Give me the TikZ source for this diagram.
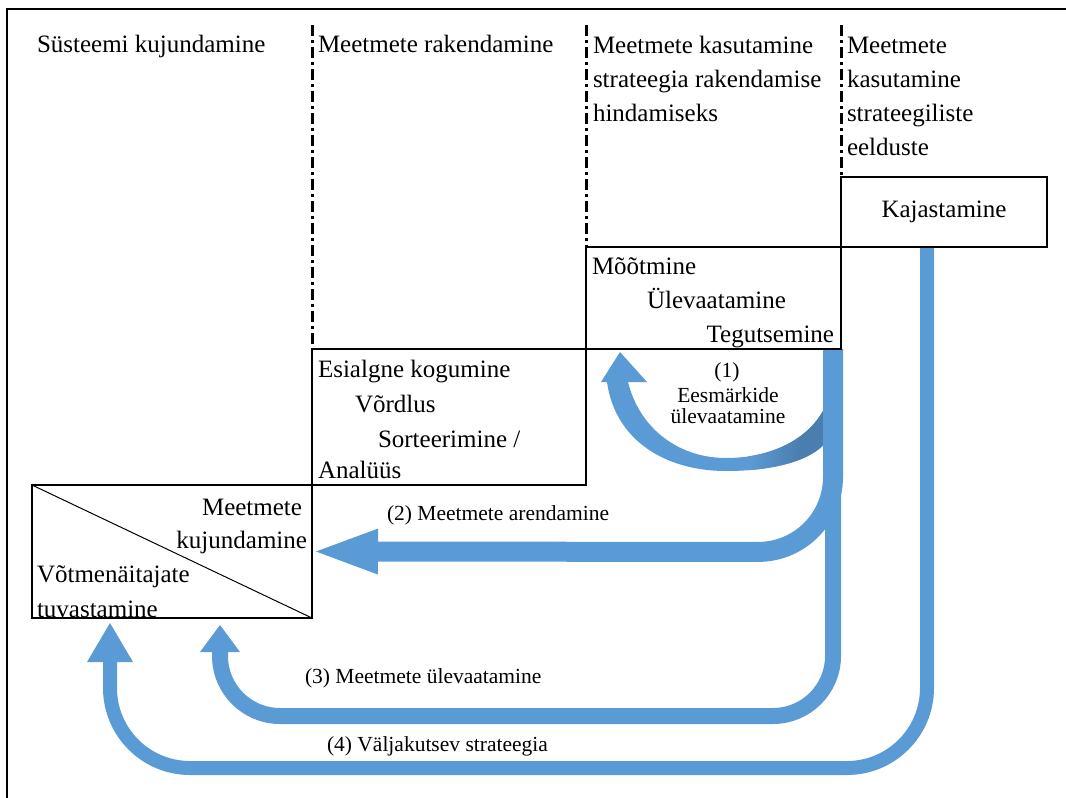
\documentclass[tikz,border=0pt]{standalone}
\usepackage{fontspec}
\setmainfont{Liberation Serif}
\usetikzlibrary{arrows.meta,backgrounds}
\definecolor{flowblue}{HTML}{5B9BD5}
\definecolor{flowshade}{HTML}{4A7EAE}

\begin{document}
\begin{tikzpicture}[x=1pt,y=-1pt,
  every node/.style={inner sep=0pt,outer sep=0pt},
  body/.style={font=\fontsize{25pt}{34pt}\selectfont},
  lbl/.style={font=\fontsize{21.5pt}{26pt}\selectfont},
  rule/.style={line width=2.5pt},
  divider/.style={line width=3pt,dash pattern=on 11pt off 4pt on 3pt off 4pt},
  stage/.style={draw,line width=2.5pt,anchor=north west},
  flow/.style={draw=flowblue,line cap=butt,line join=round},
]
\useasboundingbox (0,0) rectangle (1066,798);

% outer frame (top and left edges only)
\draw[rule] (1066,9) -- (7,9) -- (7,798);

% stage boxes of the staircase
\node[stage,minimum width=206pt,minimum height=70pt,body] (kaj) at (841,177) {Kajastamine};
\node[stage,minimum width=255pt,minimum height=102pt] (moot) at (586,247) {};
\node[stage,minimum width=274pt,minimum height=136pt] (esi) at (312,349) {};
\node[stage,minimum width=280pt,minimum height=133pt] (kuj) at (32,485) {};
\draw[line width=1pt] (kuj.north west) -- (kuj.south east);

% column dividers
\draw[divider] (esi.north west |- 0,25) -- (esi.north west);
\draw[divider] (moot.north west |- 0,25) -- (moot.north west);
\draw[divider] (kaj.north west |- 0,25) -- (kaj.north west);

% column headings
\node[body,anchor=base west] (h1) at (37,52) {Süsteemi kujundamine};
\node[body,anchor=base west] (h2) at (318,52) {Meetmete rakendamine};
\node[body,anchor=base west] (h3a) at (593,53) {Meetmete kasutamine};
\node[body,anchor=base west] (h3b) at (593,87) {strateegia rakendamise};
\node[body,anchor=base west] (h3c) at (593,121) {hindamiseks};
\node[body,anchor=base west] (h4a) at (847,53) {Meetmete};
\node[body,anchor=base west] (h4b) at (847,87) {kasutamine};
\node[body,anchor=base west] (h4c) at (847,121) {strateegiliste};
\node[body,anchor=base west] (h4d) at (847,155) {eelduste};

% box contents
\node[body,anchor=base west] (m1) at (592,274) {Mõõtmine};
\node[body,anchor=base west] (m2) at (647,308) {Ülevaatamine};
\node[body,anchor=base east] (m3) at (834,342) {Tegutsemine};

\node[body,anchor=base west] (e1) at (318,377) {Esialgne kogumine};
\node[body,anchor=base west] (e2) at (355,412) {Võrdlus};
\node[body,anchor=base west] (e3) at (378,447) {Sorteerimine /};
\node[body,anchor=base west] (e4) at (318,478) {Analüüs};

\node[body,anchor=base east] (k1) at (302,515) {Meetmete};
\node[body,anchor=base east] (k2) at (307,548) {kujundamine};
\node[body,anchor=base west] (k3) at (37,582) {Võtmenäitajate};
\node[body,anchor=base west] (k4) at (37,617) {tuvastamine};

% feedback loops
\begin{pgfonlayer}{background}
  % (1) curved arrow back to the measuring stage
  \begin{scope}
    \clip (826,405) .. controls (810,440) and (770,458) .. (726,458)
          .. controls (680,458) and (640,430) .. (628,382)
          -- (647,382) -- (620,352) -- (601,382) -- (607,382)
          .. controls (615,440) and (665,471) .. (726,471)
          .. controls (775,471) and (812,460) .. (826,442) -- cycle;
    \fill[flowblue] (590,340) rectangle (830,480);
    \shade[left color=flowblue,right color=flowshade] (748,340) rectangle (800,480);
    \fill[flowshade] (800,340) rectangle (830,480);
  \end{scope}
  % (4) from reflection back to key indicators
  \draw[flow,line width=14pt,rounded corners=80pt,
        -{Triangle[length=39pt,width=46pt,line width=0pt]}]
    ([xshift=86pt]kaj.south west) -- (927,768) -- (110,768)
    -- ([xshift=78pt,yshift=-5pt]kuj.south west);
  % (3) review of measures
  \draw[flow,line width=16pt,rounded corners=60pt,
        -{Triangle[length=27pt,width=40pt,line width=0pt]}]
    ([xshift=-8pt]moot.south east) -- (833,716) -- (220,716)
    -- ([xshift=188pt,yshift=-7pt]kuj.south west);
  % (2) development of measures
  \draw[flow,line width=20pt,rounded corners=75pt,
        -{Triangle[length=62pt,width=46pt,line width=0pt]}]
    ([xshift=-8pt]moot.south east) -- (833,552) -- ([xshift=4pt]kuj.east);
\end{pgfonlayer}

% loop labels
\node[lbl,anchor=base] (l1a) at (727,377) {(1)};
\node[lbl,anchor=base] (l1b) at (728,402) {Eesmärkide};
\node[lbl,anchor=base] (l1c) at (728,423) {ülevaatamine};
\node[lbl,anchor=base west] (l2) at (387,520) {(2) Meetmete arendamine};
\node[lbl,anchor=base west] (l3) at (305,683) {(3) Meetmete ülevaatamine};
\node[lbl,anchor=base west] (l4) at (327,751) {(4) Väljakutsev strateegia};
\end{tikzpicture}
\end{document}
